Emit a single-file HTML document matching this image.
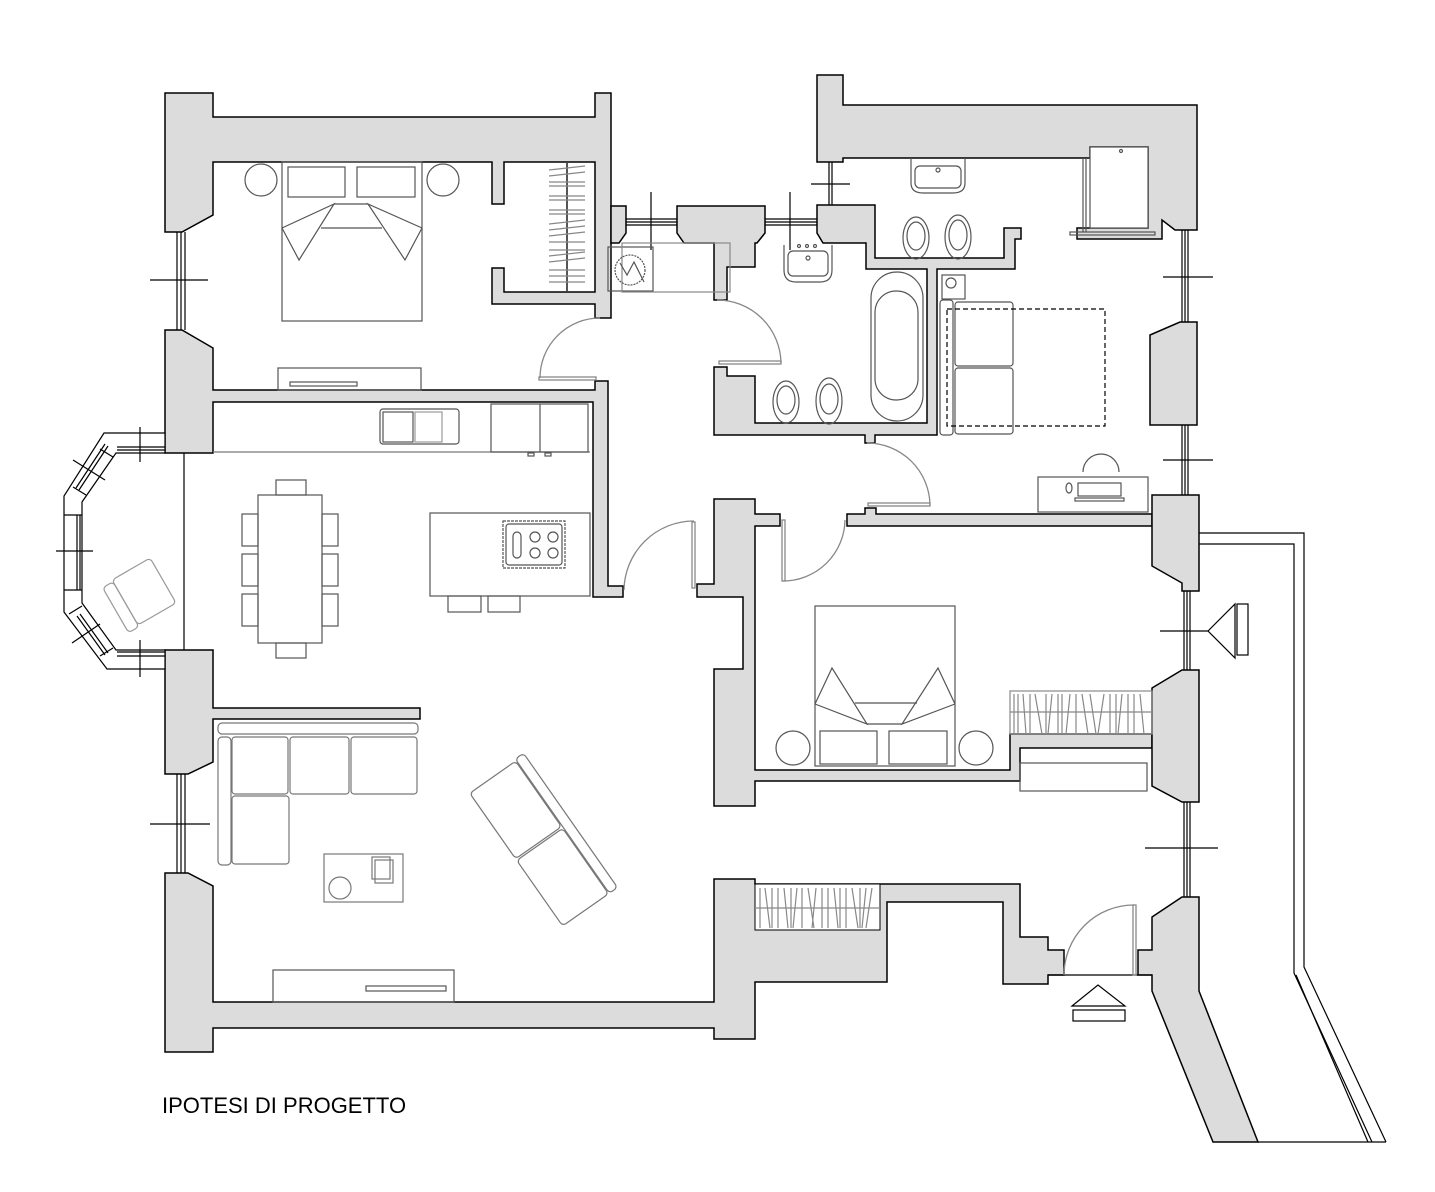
<!DOCTYPE html>
<html><head><meta charset="utf-8"><style>
html,body{margin:0;padding:0;background:#fff}
svg{display:block}
</style></head><body>
<svg width="1435" height="1192" viewBox="0 0 1435 1192" xmlns="http://www.w3.org/2000/svg">
<g fill="#dcdcdc" stroke="#000" stroke-width="1.5" stroke-linejoin="miter">
<polygon points="165,93 213,93 213,117 595,117 595,93 611,93 611,318 595,318 595,304 492,304 492,268 504,268 504,292 595,292 595,162 504,162 504,204 492,204 492,162 213,162 213,215 182,232 165,232"/>
<polygon points="165,330 182,330 213,348 213,390 595,390 595,381 608,381 608,586 623,586 623,597 593,597 593,402 213,402 213,453 165,453"/>
<polygon points="611,206 626,206 626,233 619,243 611,243"/>
<polygon points="677,206 765,206 765,233 757,243 755,243 755,267 727,267 727,300 714,300 714,243 684,243 677,233"/>
<polygon points="165,650 213,650 213,708 420,708 420,719 213,719 213,762 188,774 165,774"/>
<polygon points="165,873 188,873 213,886 213,1002 714,1002 714,879 755,879 755,884 1020,884 1020,937 1048,937 1048,950 1064,950 1064,975 1048,975 1048,984 1003,984 1003,902 887,902 887,982 755,982 755,1039 714,1039 714,1028 213,1028 213,1052 165,1052"/>
<polygon points="714,499 755,499 755,514 780,514 780,526 755,526 755,770 1010,770 1010,734 1152,734 1152,748 1020,748 1020,781 755,781 755,806 714,806 714,669 743,669 743,597 697,597 697,584 714,584"/>
<polygon points="847,514 865,514 865,508 876,508 876,514 1152,514 1152,526 847,526"/>
<polygon points="817,75 843,75 843,105 1197,105 1197,230 1180,230 1175,230 1162,220 1162,239 1077,239 1077,228 1148,228 1148,147 1090,147 1090,158 843,158 843,162 817,162"/>
<polygon points="817,205 875,205 875,258 1004,258 1004,228 1021,228 1021,239 1015,239 1015,269 937,269 937,435 875,435 875,443 865,443 865,435 714,435 714,367 727,367 727,376 755,376 755,423 927,423 927,269 866,269 866,243 823,243 817,233"/>
<polygon points="1150,335 1180,322 1197,322 1197,425 1150,425"/>
<polygon points="1152,495 1199,495 1199,591 1182,591 1182,583 1152,566"/>
<polygon points="1152,688 1182,670 1199,670 1199,802 1182,802 1152,786"/>
<polygon points="1152,917 1182,897 1199,897 1199,991 1258,1142 1213,1142 1152,991 1152,975 1138,975 1138,950 1152,950"/>
</g>
<rect x="755" y="884" width="125" height="46" fill="#fff" stroke="#000" stroke-width="1"/>

<g fill="none" stroke="#000" stroke-width="1.2">
<line x1="177" y1="232" x2="177" y2="330"/><line x1="181" y1="232" x2="181" y2="330"/><line x1="185" y1="232" x2="185" y2="330"/>
<line x1="150" y1="280" x2="208" y2="280"/>
<line x1="177" y1="774" x2="177" y2="873"/><line x1="181" y1="774" x2="181" y2="873"/><line x1="185" y1="774" x2="185" y2="873"/>
<line x1="150" y1="824" x2="210" y2="824"/>
<line x1="626" y1="219" x2="677" y2="219"/><line x1="626" y1="222" x2="677" y2="222"/><line x1="626" y1="225" x2="677" y2="225"/>
<line x1="651" y1="192" x2="651" y2="250"/>
<line x1="765" y1="219" x2="817" y2="219"/><line x1="765" y1="222" x2="817" y2="222"/><line x1="765" y1="225" x2="817" y2="225"/>
<line x1="790" y1="192" x2="790" y2="250"/>
<line x1="829" y1="162" x2="829" y2="205"/><line x1="832" y1="162" x2="832" y2="205"/>
<line x1="811" y1="184" x2="850" y2="184"/>
<line x1="1182" y1="230" x2="1182" y2="322"/><line x1="1185" y1="230" x2="1185" y2="322"/><line x1="1188" y1="230" x2="1188" y2="322"/>
<line x1="1163" y1="277" x2="1213" y2="277"/>
<line x1="1182" y1="425" x2="1182" y2="495"/><line x1="1185" y1="425" x2="1185" y2="495"/><line x1="1188" y1="425" x2="1188" y2="495"/>
<line x1="1163" y1="460" x2="1213" y2="460"/>
<line x1="1184" y1="591" x2="1184" y2="670"/><line x1="1187" y1="591" x2="1187" y2="670"/><line x1="1190" y1="591" x2="1190" y2="670"/>
<line x1="1160" y1="631" x2="1208" y2="631"/>
<line x1="1184" y1="802" x2="1184" y2="897"/><line x1="1187" y1="802" x2="1187" y2="897"/><line x1="1190" y1="802" x2="1190" y2="897"/>
<line x1="1145" y1="848" x2="1218" y2="848"/>
<polygon points="165,433 104,433 64,496 64,612 107,669 165,669 165,650 116,650 82,603 82,502 116,453 165,453" fill="#fff"/>
<line x1="184" y1="453" x2="184" y2="650"/>
<line x1="117" y1="447" x2="165" y2="447"/><line x1="117" y1="450" x2="165" y2="450"/>
<line x1="117" y1="652" x2="165" y2="652"/><line x1="117" y1="656" x2="165" y2="656"/>
<line x1="64" y1="515" x2="82" y2="515"/><line x1="64" y1="590" x2="82" y2="590"/>
<line x1="77" y1="515" x2="77" y2="590"/><line x1="80" y1="515" x2="80" y2="590"/>
<line x1="79" y1="490" x2="108" y2="446"/><line x1="76" y1="488" x2="105" y2="444"/>
<line x1="77" y1="616" x2="105" y2="655"/><line x1="80" y1="614" x2="108" y2="653"/>
<line x1="73" y1="487" x2="86" y2="495"/><line x1="100" y1="449" x2="113" y2="457"/>
<line x1="69" y1="614" x2="82" y2="606"/><line x1="100" y1="656" x2="113" y2="648"/>
<line x1="140" y1="427" x2="140" y2="462"/><line x1="140" y1="640" x2="140" y2="677"/>
<line x1="56" y1="551" x2="93" y2="551"/>
<line x1="73" y1="460" x2="105" y2="480"/><line x1="72" y1="643" x2="100" y2="624"/>
<polyline points="1199,533 1304,533 1304,967 1386,1142"/>
<polyline points="1199,544 1294,544 1294,973 1372,1142"/>
<polyline points="1296,975 1368,1142"/>
<line x1="1258" y1="1142" x2="1386" y2="1142"/>
<polygon points="1072,1006 1098,985 1125,1006"/>
<rect x="1073" y="1010" width="52" height="11"/>
<polygon points="1208,631 1235,604 1235,658"/>
<rect x="1237" y="604" width="11" height="51"/>
<line x1="1048" y1="975" x2="1152" y2="975"/>
</g>

<g fill="none" stroke="#888" stroke-width="1.3">
<path d="M540,378 A60,60 0 0 1 600,318"/><rect x="539" y="377" width="57" height="3"/>
<path d="M717,300 A64,64 0 0 1 781,363"/><rect x="719" y="361" width="62" height="3"/>
<path d="M867,443 A63,63 0 0 1 930,505"/><rect x="868" y="503" width="62" height="3"/>
<path d="M783,581 A62,62 0 0 0 845,520"/><rect x="782" y="520" width="3" height="61"/>
<path d="M624,590 A70,70 0 0 1 694,521"/><rect x="692" y="522" width="3" height="66"/>
<path d="M1064,975 A70,70 0 0 1 1134,905"/><rect x="1133" y="905" width="3" height="70"/>
</g>

<g fill="none" stroke="#555" stroke-width="1.2">
<circle cx="261" cy="180" r="16"/><circle cx="443" cy="180" r="16"/>
<rect x="288" y="167" width="57" height="30"/><rect x="357" y="167" width="58" height="30"/>
<rect x="282" y="162" width="140" height="159"/>
<polyline points="282,228 334,204 299,260 282,228"/>
<polyline points="422,228 368,204 405,260 422,228"/>
<line x1="321" y1="228" x2="382" y2="228"/><line x1="334" y1="204" x2="368" y2="204"/>
<rect x="278" y="368" width="143" height="22"/><rect x="290" y="382" width="67" height="4"/>
<line x1="567" y1="163" x2="567" y2="291" stroke-width="2"/>
<g stroke="#888">
<path d="M549,170 L585,166 M549,176 L585,172 M549,182 L585,182 M549,186 L585,186 M549,196 L585,196 M549,200 L585,200 M549,210 L585,210 M549,214 L585,214 M549,224 L585,220 M549,230 L585,226 M549,236 L585,232 M549,242 L585,242 M549,250 L585,250 M549,256 L585,252 M549,262 L585,258 M549,270 L585,270 M549,276 L585,276 M549,282 L585,282"/>
</g>
<rect x="608" y="247" width="45" height="44"/><rect x="622" y="243" width="108" height="49" stroke="#888"/>
<circle cx="630" cy="270" r="15" stroke-dasharray="2,1"/><polyline points="620,263 627,275 634,262 644,282"/>
<line x1="213" y1="452" x2="590" y2="452" stroke="#777"/>
<rect x="380" y="409" width="79" height="35" rx="3"/>
<rect x="383" y="412" width="30" height="30"/><rect x="415" y="412" width="27" height="30" stroke="#999"/>
<rect x="491" y="404" width="97" height="48"/><line x1="540" y1="404" x2="540" y2="452"/>
<rect x="528" y="453" width="6" height="3"/><rect x="545" y="453" width="6" height="3"/>
<rect x="430" y="513" width="160" height="83"/>
<rect x="503" y="521" width="62" height="47" stroke-dasharray="3,1"/><rect x="506" y="524" width="56" height="41" rx="3"/>
<rect x="513" y="532" width="8" height="26" rx="4"/>
<circle cx="535" cy="537" r="5"/><circle cx="553" cy="537" r="5"/><circle cx="535" cy="553" r="5"/><circle cx="553" cy="553" r="5"/>
<rect x="448" y="596" width="33" height="16"/><rect x="488" y="596" width="32" height="16"/>
<rect x="258" y="495" width="64" height="148"/>
<rect x="276" y="480" width="30" height="15"/><rect x="276" y="643" width="30" height="15"/>
<rect x="242" y="514" width="16" height="32"/><rect x="242" y="554" width="16" height="32"/><rect x="242" y="594" width="16" height="32"/>
<rect x="322" y="514" width="16" height="32"/><rect x="322" y="554" width="16" height="32"/><rect x="322" y="594" width="16" height="32"/>
<g transform="translate(138,595) rotate(-30)" stroke="#999"><rect x="-27" y="-24" width="12" height="52" rx="4"/><rect x="-15" y="-26" width="44" height="52" rx="4"/></g>
<g stroke="#777">
<rect x="218" y="723" width="200" height="11" rx="4"/>
<rect x="218" y="737" width="13" height="128" rx="4"/>
<rect x="232" y="737" width="56" height="57" rx="3"/><rect x="290" y="737" width="59" height="57" rx="3"/><rect x="351" y="737" width="66" height="57" rx="3"/>
<rect x="232" y="796" width="57" height="68" rx="3"/>
<rect x="324" y="854" width="79" height="48"/><circle cx="340" cy="888" r="11"/>
<rect x="372" y="857" width="18" height="22"/><rect x="375" y="860" width="18" height="23"/>
<g transform="translate(541,841) rotate(55)"><rect x="-82" y="-36" width="164" height="10" rx="4"/><rect x="-80" y="-25" width="80" height="56" rx="4"/><rect x="2" y="-25" width="80" height="56" rx="4"/></g>
</g>
<rect x="273" y="970" width="181" height="32"/><rect x="366" y="986" width="80" height="5"/>
<path d="M784,245 L784,270 Q784,282 796,282 L820,282 Q832,282 832,270 L832,245" />
<rect x="788" y="251" width="40" height="25" rx="5"/><circle cx="808" cy="258" r="2"/>
<circle cx="799" cy="246" r="1.5"/><circle cx="807" cy="246" r="1.5"/><circle cx="815" cy="246" r="1.5"/>
<ellipse cx="786" cy="402" rx="13" ry="21"/><ellipse cx="786" cy="400" rx="9" ry="14"/>
<ellipse cx="829" cy="401" rx="13" ry="23"/><ellipse cx="829" cy="399" rx="9" ry="15"/>
<rect x="871" y="272" width="52" height="149" rx="26"/><rect x="875" y="291" width="43" height="109" rx="21"/>
<path d="M911,158 L911,183 Q911,193 923,193 L953,193 Q965,193 965,183 L965,158"/>
<rect x="915" y="166" width="46" height="22" rx="5"/><circle cx="938" cy="170" r="2"/>
<ellipse cx="916" cy="238" rx="13" ry="21"/><ellipse cx="916" cy="236" rx="9" ry="14"/>
<ellipse cx="958" cy="237" rx="13" ry="22"/><ellipse cx="958" cy="235" rx="9" ry="15"/>
<rect x="1090" y="147" width="58" height="81" fill="#fff"/><circle cx="1121" cy="151" r="1.5"/>
<line x1="1083" y1="158" x2="1083" y2="232"/><line x1="1086" y1="158" x2="1086" y2="232"/>
<rect x="1070" y="232" width="85" height="3"/>
<rect x="942" y="275" width="23" height="24"/><circle cx="951" cy="283" r="5"/>
<rect x="940" y="300" width="13" height="135" rx="3"/>
<rect x="955" y="302" width="58" height="64" rx="3"/><rect x="955" y="368" width="58" height="66" rx="3"/>
<rect x="947" y="309" width="158" height="117" stroke="#000" stroke-dasharray="5,3"/>
<rect x="1038" y="477" width="110" height="35"/>
<path d="M1083,472 A18,18 0 1 1 1119,472"/>
<rect x="1078" y="483" width="43" height="13"/><rect x="1075" y="498" width="49" height="3"/>
<ellipse cx="1069" cy="488" rx="3" ry="5"/>
<rect x="815" y="606" width="140" height="160"/>
<rect x="820" y="731" width="57" height="33"/><rect x="889" y="731" width="58" height="33"/>
<circle cx="793" cy="748" r="17"/><circle cx="976" cy="748" r="17"/>
<polyline points="815,704 832,668 867,724 815,704"/><polyline points="955,704 938,668 902,724 955,704"/>
<line x1="855" y1="703" x2="917" y2="703"/><line x1="867" y1="724" x2="902" y2="724"/>
<rect x="1020" y="763" width="127" height="28"/>
<g stroke="#888">
<rect x="1010" y="691" width="142" height="43"/>
<path d="M1014,694 V734 M1018,694 V734 M1023,694 L1026,734 M1030,694 V734 M1035,694 L1042,734 M1046,694 V734 M1052,694 L1048,734 M1058,694 V734 M1062,694 V734 M1070,694 L1066,734 M1076,694 V734 M1082,694 L1088,734 M1090,694 L1096,734 M1104,694 L1098,734 M1110,694 V734 M1116,694 V734 M1122,694 L1118,734 M1128,694 V734 M1134,694 V734 M1140,694 L1144,734"/>
<line x1="1010" y1="712" x2="1152" y2="712"/>
<path d="M760,888 V928 M765,888 L770,928 M772,888 V928 M778,888 V928 M784,888 L788,928 M791,888 V928 M797,888 L793,928 M802,888 V928 M808,888 L814,928 M816,888 L812,928 M822,888 V928 M828,888 V928 M834,888 L838,928 M840,888 V928 M846,888 V928 M852,888 L858,928 M860,888 V928 M866,888 L862,928 M872,888 L866,928"/>
<line x1="755" y1="908" x2="880" y2="908"/>
</g>
</g>
<text x="162" y="1113" font-family="Liberation Sans, sans-serif" font-size="22" fill="#000">IPOTESI DI PROGETTO</text>
</svg>
</body></html>
